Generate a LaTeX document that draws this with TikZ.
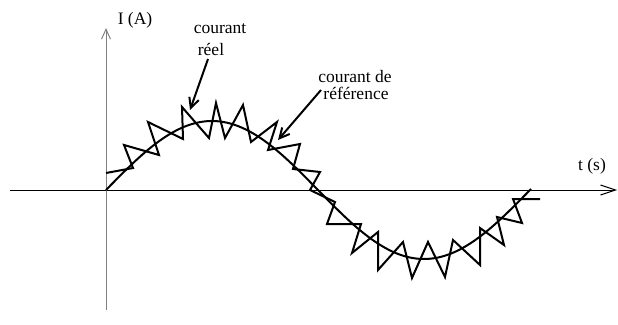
\documentclass[tikz,border=0pt]{standalone}
\usepackage{fontspec}
\setmainfont{Liberation Serif}
\usetikzlibrary{arrows.meta}
\tikzset{
  axisline/.style={line width=1pt},
  labeltext/.style={font=\fontsize{17.5}{20}\selectfont, inner sep=0pt, anchor=base},
  labelarrow/.style={line width=2pt, -{Straight Barb[length=10pt,width=10pt,line width=2pt]}},
  curveline/.style={line width=2pt, line join=miter},
}
\begin{document}
\begin{tikzpicture}[x=1pt,y=-1pt]
\useasboundingbox (0,0) rectangle (618,324);
% axes
\coordinate (xstart) at (10,190);
\coordinate (xend) at (617,190);
\coordinate (ystart) at (106,310);
\coordinate (yend) at (106,28);
\draw[axisline, -{Straight Barb[length=15pt,width=10pt,line width=1pt]}] (xstart) -- (xend);
\draw[axisline, gray, -{Straight Barb[length=10pt,width=9pt,line width=1pt]}] (ystart) -- (yend);
% labels
\node[labeltext] (ylab) at (135,24) {I (A)};
\node[labeltext] (xlab) at (592,170) {t (s)};
\node[labeltext] (reel1) at (220,33) {courant};
\node[labeltext] (reel2) at (211,55) {réel};
\node[labeltext] (ref1) at (355,82) {courant de};
\node[labeltext] (ref2) at (356,99) {référence};
% reference sine
\draw[curveline] plot[domain=106:531, samples=120, smooth] (\x, {190-69*sin((\x-106)/212*180)});
% real current zigzag
\draw[curveline] (106,173) -- (133,168) -- (124,145) -- (159,155) -- (148,122)
  -- (183,139) -- (182,107) -- (209,138) -- (216,103) -- (225,138) -- (243,105)
  -- (251,142) -- (277,122) -- (268,150) -- (300,144) -- (293,169) -- (320,172)
  -- (310,190) -- (335,202) -- (327,224) -- (361,224) -- (352,253) -- (378,232)
  -- (378,270) -- (403,242) -- (412,278) -- (428,242) -- (445,277) -- (453,240)
  -- (480,265) -- (480,228) -- (504,245) -- (497,217) -- (522,223) -- (513,199)
  -- (540,199);
% label arrows
\coordinate (reelStart) at (208,59);
\coordinate (reelTip) at (190,110);
\coordinate (refStart) at (321,90);
\coordinate (refTip) at (278,140);
\draw[labelarrow] (reelStart) -- (reelTip);
\draw[labelarrow] (refStart) -- (refTip);
\end{tikzpicture}
\end{document}
